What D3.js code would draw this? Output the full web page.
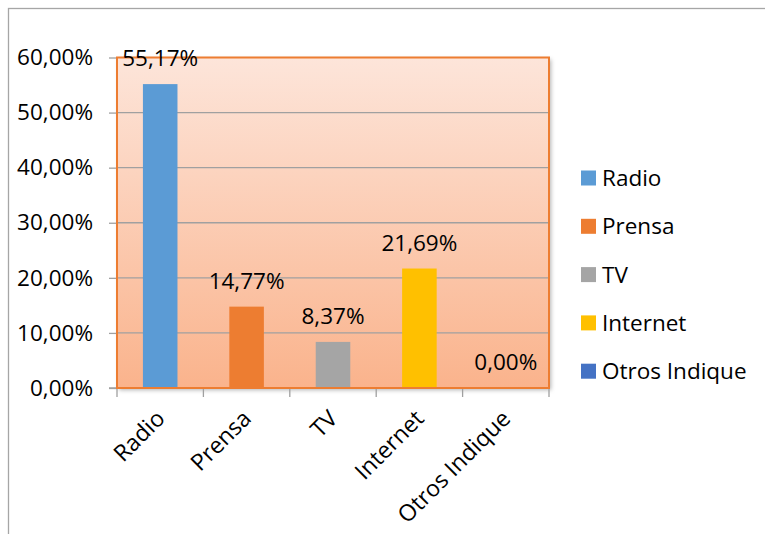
<!DOCTYPE html>
<html><head><meta charset="utf-8">
<script src="https://cdn.jsdelivr.net/npm/d3@7"></script>
<style>body{margin:0;background:#fff}svg{display:block}text{font-family:"Open Sans",sans-serif;fill:#000}</style>
</head><body><svg id="c" width="765" height="534"></svg>
<script>
const categories = ["Radio","Prensa","TV","Internet","Otros Indique"];
const values = [55.17,14.77,8.37,21.69,0.00];
const valueLabels = ["55,17%","14,77%","8,37%","21,69%","0,00%"];
const colors = ["#5B9BD5","#ED7D31","#A5A5A5","#FFC000","#4472C4"];
const yTicks = [0,10,20,30,40,50,60];
const yTickLabels = ["0,00%","10,00%","20,00%","30,00%","40,00%","50,00%","60,00%"];

const svg = d3.select("#c");
const L=117,R=549,T=57.5,B=388;
// outer border
svg.append("rect").attr("x",8.5).attr("y",8.5).attr("width",800).attr("height",600).attr("fill","none").attr("stroke","#a6a6a6").attr("stroke-width",1.3);

const defs = svg.append("defs");
const g = defs.append("linearGradient").attr("id","bg").attr("x1",0).attr("y1",0).attr("x2",0).attr("y2",1);
g.append("stop").attr("offset","0%").attr("stop-color","#FDE5DA");
g.append("stop").attr("offset","100%").attr("stop-color","#FAB38C");
const f = defs.append("filter").attr("id","sh").attr("x","-5%").attr("y","-5%").attr("width","115%").attr("height","115%");
f.append("feDropShadow").attr("dx",2).attr("dy",2).attr("stdDeviation",2).attr("flood-color","#000").attr("flood-opacity",0.3);

const x = d3.scaleBand().domain(categories).range([L,R]).paddingInner(0.6).paddingOuter(0.3);
const xb = d3.scaleBand().domain(categories).range([L,R]);
const y = d3.scaleLinear().domain([0,60]).range([B,T]);

svg.append("rect").attr("x",L).attr("y",T).attr("width",R-L).attr("height",B-T).attr("fill","url(#bg)").attr("filter","url(#sh)");

// gridlines
svg.append("g").selectAll("line").data(yTicks.slice(1,6)).join("line")
  .attr("x1",L).attr("x2",R).attr("y1",d=>y(d)).attr("y2",d=>y(d)).attr("stroke","#a0a0a0").attr("stroke-width",1.3);

// y axis ticks
const ya = d3.axisLeft(y).tickValues(yTicks).tickFormat((d,i)=>yTickLabels[i]).tickSize(8).tickPadding(16);
const yg = svg.append("g").attr("transform",`translate(${L},0)`).call(ya);
yg.select(".domain").remove();
yg.selectAll("line").attr("stroke","#a0a0a0").attr("stroke-width",1.3);
yg.selectAll("text").attr("font-size",22.5).attr("font-family","Open Sans").attr("fill","#000");

// bars
svg.append("g").selectAll("rect").data(values).join("rect")
  .attr("x",(d,i)=>x(categories[i])).attr("width",x.bandwidth())
  .attr("y",d=>y(d)).attr("height",d=>B-y(d)).attr("fill",(d,i)=>colors[i]);

// x axis
svg.append("line").attr("x1",L-8).attr("x2",R).attr("y1",B).attr("y2",B).attr("stroke","#a0a0a0").attr("stroke-width",1.3);
const bounds = categories.map(c=>xb(c)).concat([R]);
svg.append("g").selectAll("line").data(bounds).join("line")
  .attr("x1",d=>d).attr("x2",d=>d).attr("y1",B).attr("y2",B+9).attr("stroke","#a0a0a0").attr("stroke-width",1.3);

// plot border
svg.append("rect").attr("x",L).attr("y",T).attr("width",R-L).attr("height",B-T).attr("fill","none").attr("stroke","#ED7D31").attr("stroke-width",2);

// x labels
svg.append("g").selectAll("text").data(categories).join("text")
  .attr("transform",c=>`translate(${xb(c)+xb.bandwidth()/2+6},${B+32}) rotate(-45)`)
  .attr("text-anchor","end").attr("font-size",23).text(c=>c);

// value labels
svg.append("g").selectAll("text").data(values).join("text")
  .attr("x",(d,i)=>xb(categories[i])+xb.bandwidth()/2).attr("y",d=>y(d)-18)
  .attr("text-anchor","middle").attr("font-size",22.5).text((d,i)=>valueLabels[i]);

// legend
const lg = svg.append("g").selectAll("g").data(categories).join("g")
  .attr("transform",(c,i)=>`translate(581,${178+i*48.3})`);
lg.append("rect").attr("x",0).attr("y",-7.5).attr("width",15).attr("height",15).attr("fill",(c,i)=>colors[i]);
lg.append("text").attr("x",21).attr("y",8).attr("font-size",22.5).text(c=>c);
</script></body></html>
